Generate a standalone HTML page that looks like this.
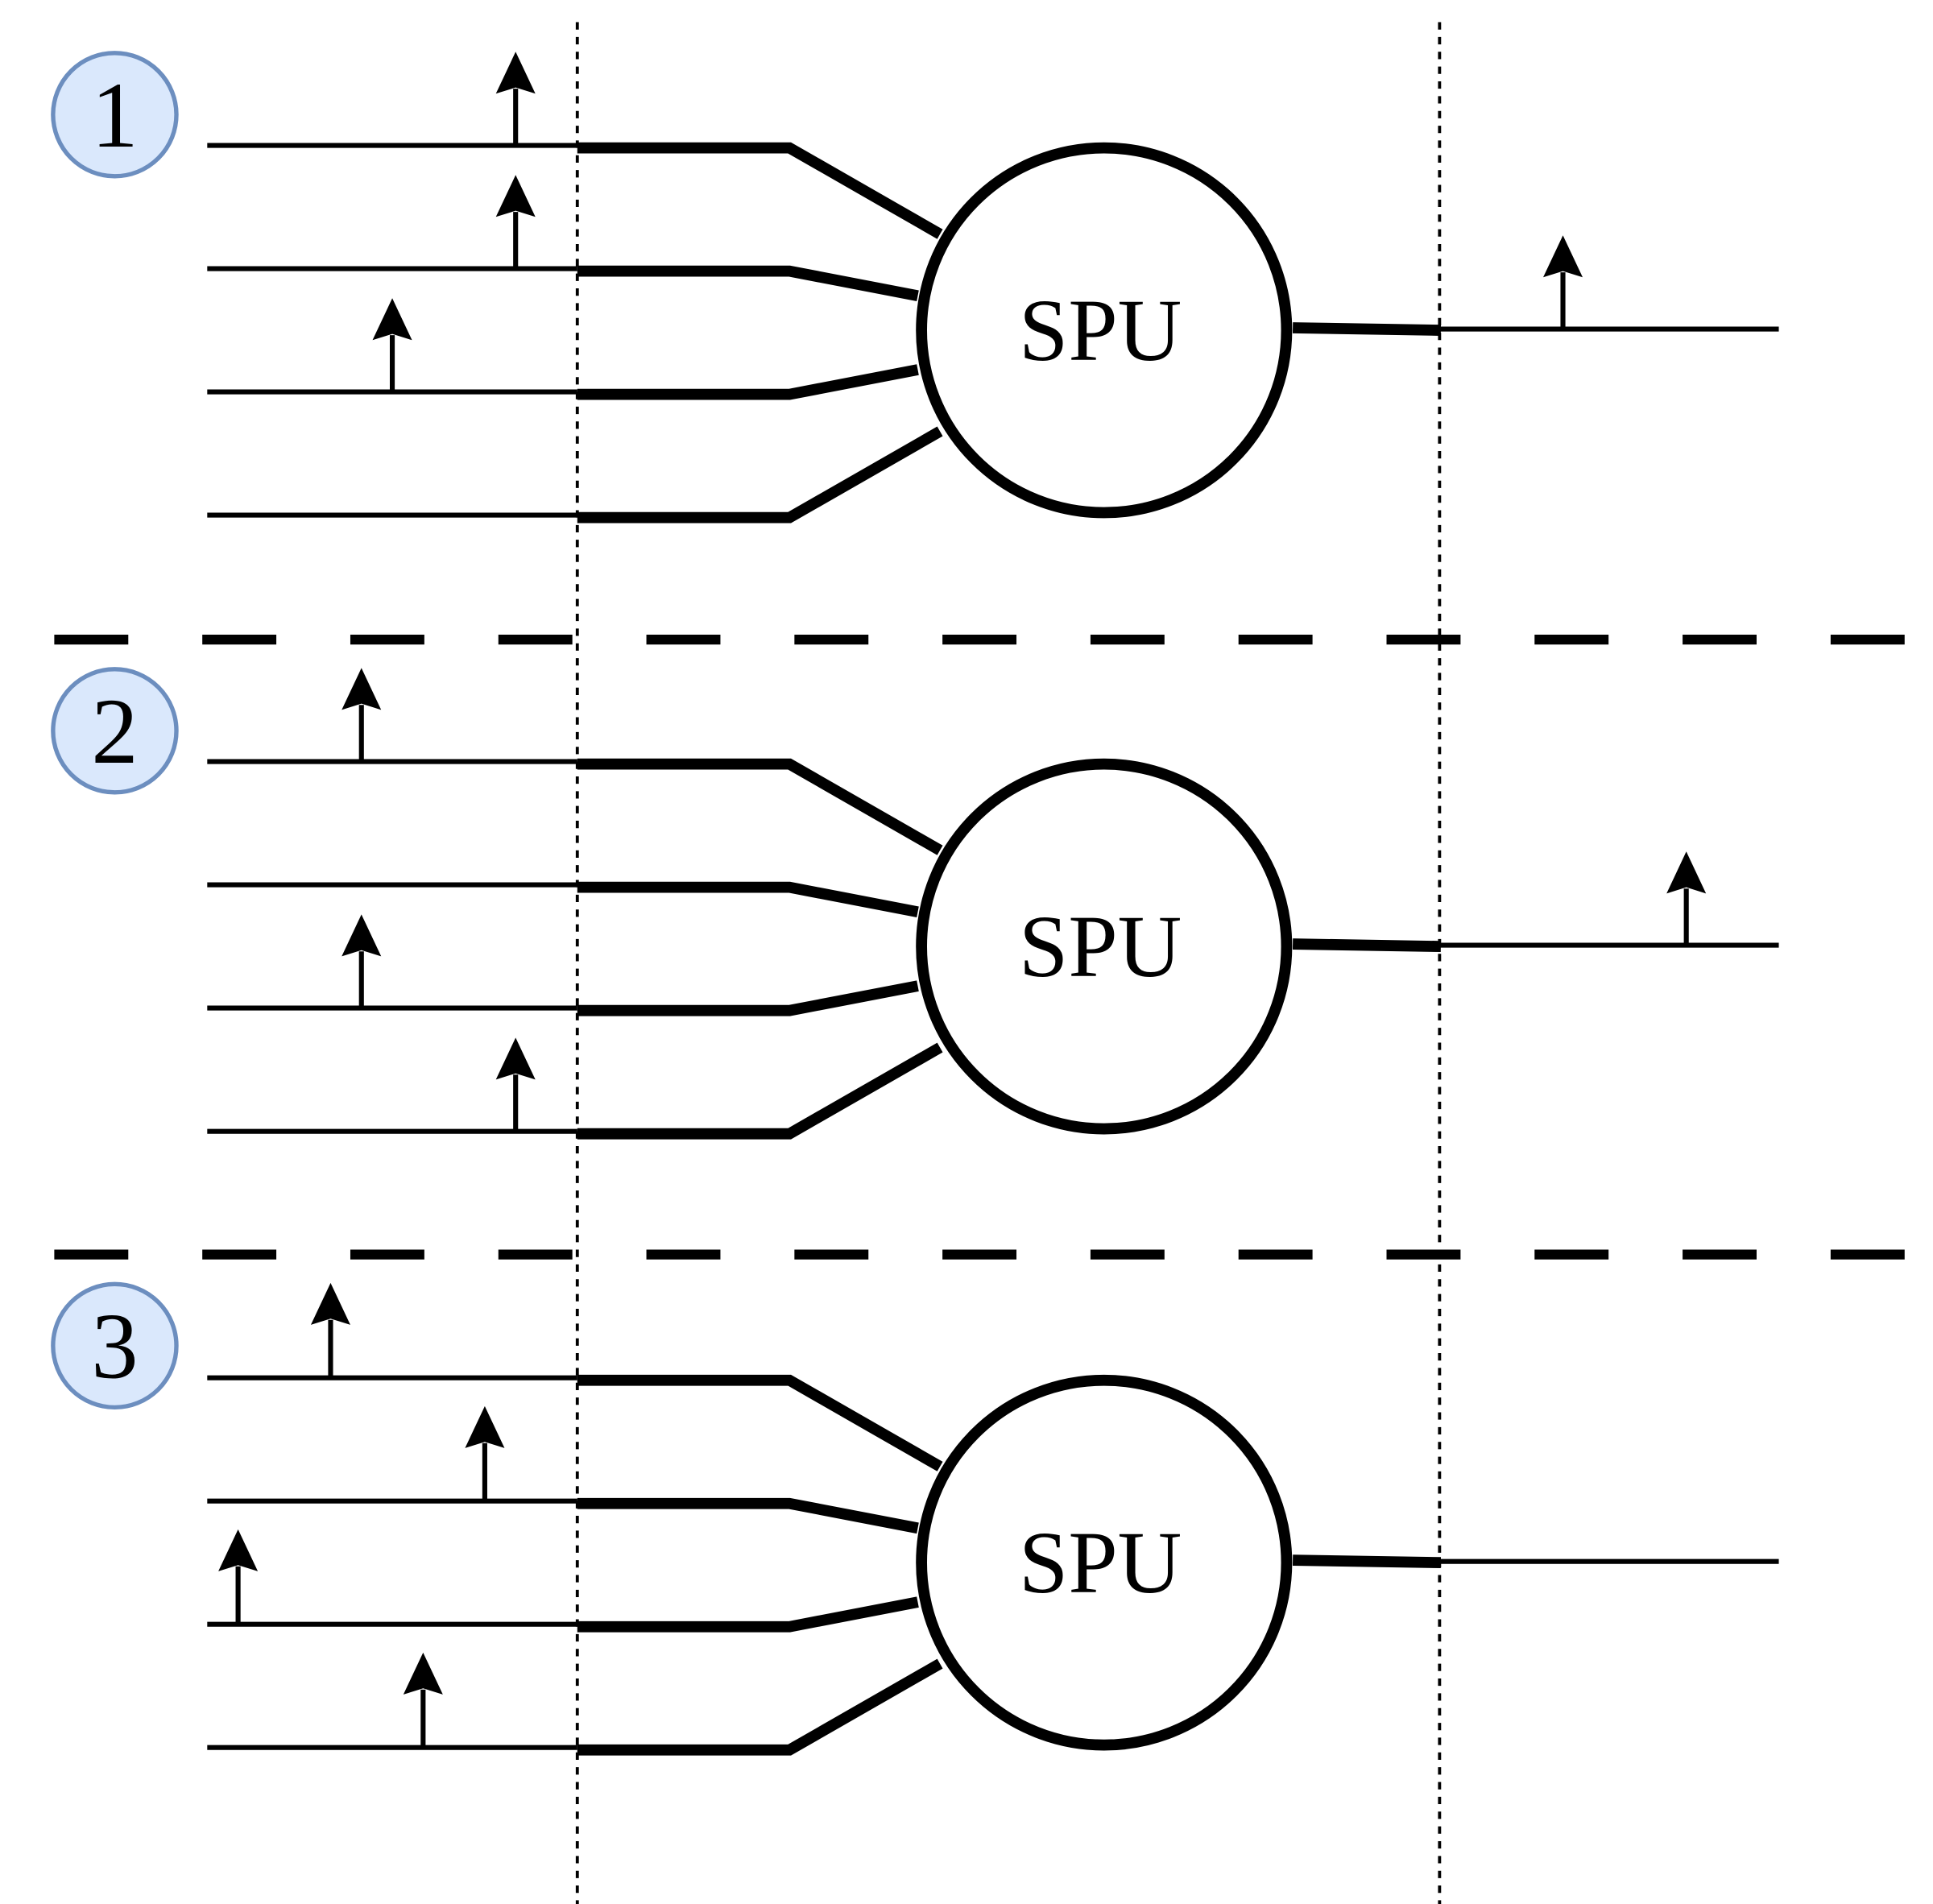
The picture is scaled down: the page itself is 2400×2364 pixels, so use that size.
<!DOCTYPE html>
<html><head><meta charset="utf-8"><style>html,body{margin:0;padding:0;background:#fff}svg{display:block}</style></head>
<body>
<svg width="2400" height="2364" viewBox="0 0 1567 1545" preserveAspectRatio="none" xmlns="http://www.w3.org/2000/svg">
<defs>
<g id="arr"><line x1="0" y1="0" x2="0" y2="-46" stroke="#000" stroke-width="4"/><polygon points="0,-76 -16,-42 0,-47 16,-42" fill="#000"/></g>
<g id="panel">
  <g stroke="#000" fill="none">
    <line x1="168" y1="118" x2="468" y2="118" stroke-width="4"/>
    <line x1="168" y1="218" x2="468" y2="218" stroke-width="4"/>
    <line x1="168" y1="318" x2="468" y2="318" stroke-width="4"/>
    <line x1="168" y1="418" x2="468" y2="418" stroke-width="4"/>
    <polyline points="468,120 640,120 762,190" stroke-width="9"/>
    <polyline points="468,220 640,220 744,240" stroke-width="9"/>
    <polyline points="468,320 640,320 744,300" stroke-width="9"/>
    <polyline points="468,420 640,420 762,350" stroke-width="9"/>
    <circle cx="895" cy="268" r="148" stroke-width="9" fill="#fff"/>
    <line x1="1048" y1="266" x2="1168" y2="268" stroke-width="9"/>
    <line x1="1166" y1="267" x2="1442" y2="267" stroke-width="4"/>
  </g>
  <text x="892" y="292" font-family="Liberation Serif, serif" font-size="72" text-anchor="middle">SPU</text>
</g>
</defs>
<use href="#panel"/>
<use href="#panel" y="500"/>
<use href="#panel" y="1000"/>
<g stroke="#000" stroke-width="2.5" stroke-dasharray="6,6">
<line x1="468" y1="18" x2="468" y2="1545"/>
<line x1="1167" y1="18" x2="1167" y2="1545"/>
</g>
<g stroke="#000" stroke-width="8" stroke-dasharray="60,60">
<line x1="44" y1="519" x2="1567" y2="519"/>
<line x1="44" y1="1018" x2="1567" y2="1018"/>
</g>
<use href="#arr" x="418" y="118"/><use href="#arr" x="418" y="218"/><use href="#arr" x="318" y="318"/><use href="#arr" x="1267" y="267"/>
<use href="#arr" x="293" y="618"/><use href="#arr" x="293" y="818"/><use href="#arr" x="418" y="918"/><use href="#arr" x="1367" y="767"/>
<use href="#arr" x="268" y="1117"/><use href="#arr" x="393" y="1217"/><use href="#arr" x="193" y="1317"/><use href="#arr" x="343" y="1417"/>
<g fill="#dae8fc" stroke="#6c8ebf" stroke-width="3.5">
<circle cx="93" cy="93" r="50"/><circle cx="93" cy="593" r="50"/><circle cx="93" cy="1092" r="50"/>
</g>
<g font-family="Liberation Serif, serif" font-size="76" text-anchor="middle">
<text x="93" y="119">1</text><text x="93" y="619">2</text><text x="93" y="1118">3</text>
</g>
</svg>
</body></html>
